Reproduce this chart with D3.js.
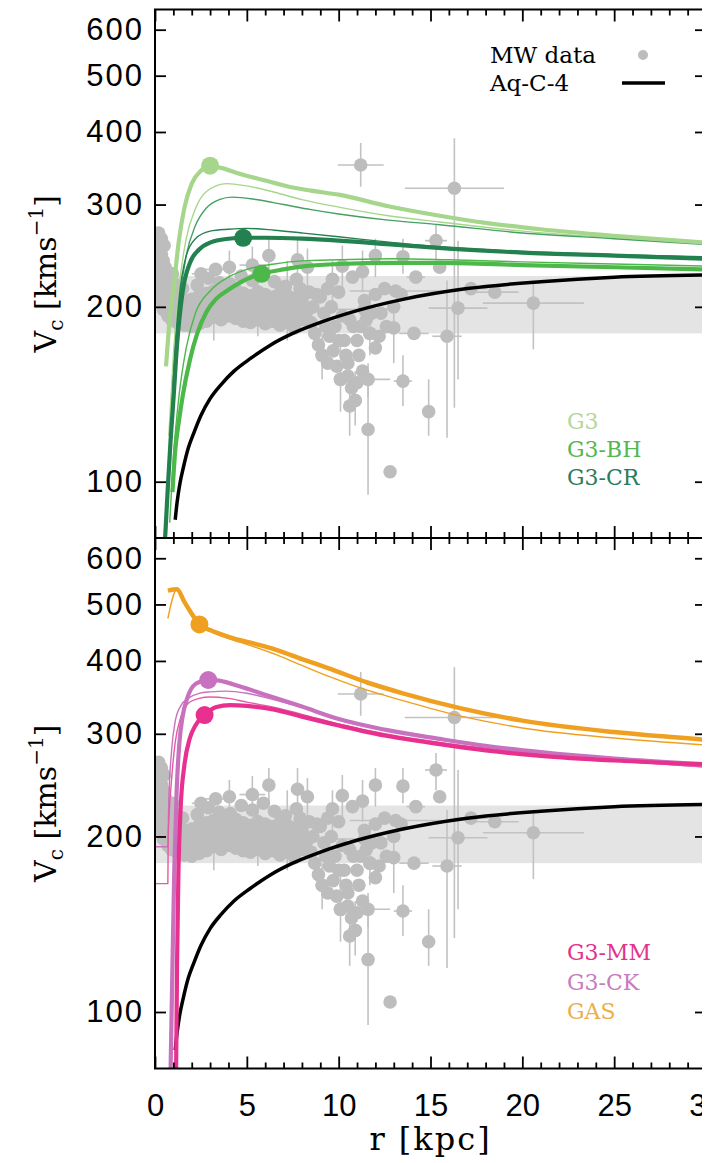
<!DOCTYPE html>
<html>
<head>
<meta charset="utf-8">
<script src="https://cdnjs.cloudflare.com/ajax/libs/d3/7.8.5/d3.min.js"></script>
<style>
body { margin: 0; background: #fff; }
svg { display: block; }
</style>
</head>
<body>
<script>
// ---- data ----
var xTicks = [0, 5, 10, 15, 20, 25, 30];
var yTicks = [100, 200, 300, 400, 500, 600];

// Aq-C-4 (black)
var aqR = [1.1, 1.2, 1.35, 1.55, 1.8, 2.1, 2.5, 3.0, 3.6, 4.3, 5.2, 6.3, 7.5, 9, 11, 13.5, 17, 21, 25, 30];
var aqV = [86, 92, 99, 106, 114, 121, 130, 139, 147, 155, 163, 172, 180, 188, 197, 206, 215, 221, 225, 227];

// top panel
var g3R = [0.6, 0.8, 1.0, 1.3, 1.6, 2.0, 2.5, 3.0, 3.6, 4.6, 6, 7.3, 8.5, 10, 12.7, 15.5, 18, 21, 25, 30];
var g3V = [158, 190, 214, 260, 296, 326, 343, 350, 347, 339, 330, 322, 317, 312, 298, 287, 279, 272, 265, 258];
var g3ThinR = [0.75, 1.0, 1.3, 1.7, 2.2, 2.8, 3.9, 5, 6.5, 8, 10, 12.7, 15.5, 20, 25, 30];
var g3ThinV = [120, 165, 215, 262, 295, 316, 326, 323, 315, 306, 297, 287, 280, 270, 263, 257];
var crThin1R = [0.8, 1.0, 1.3, 1.7, 2.2, 2.8, 3.5, 4.2, 5.5, 7, 8.5, 10, 12.7, 15.5, 20, 25, 30];
var crThin1V = [110, 150, 200, 245, 276, 296, 306, 309, 306, 300, 294, 289, 282, 277, 268, 262, 256];
var crThin2R = [0.6, 0.8, 1.0, 1.3, 1.7, 2.2, 3, 4, 5, 6.5, 8, 10, 13, 16, 20, 25, 30];
var crThin2V = [80, 110, 150, 205, 245, 262, 270, 272, 273, 271, 268, 264, 258, 253, 249, 246, 244];
var crR = [0.55, 0.7, 0.85, 1.0, 1.2, 1.5, 1.9, 2.4, 3, 4, 4.8, 6, 8, 10, 13, 16, 20, 25, 30];
var crV = [80, 98, 118, 138, 172, 212, 238, 251, 258, 262, 263, 263, 262, 260, 256, 252, 248, 245, 242];
var bhThinR = [0.8, 1.0, 1.3, 1.7, 2.2, 3, 4, 5, 6.5, 8, 10, 13, 16, 20, 25, 30];
var bhThinV = [85, 110, 140, 170, 195, 213, 225, 232, 237, 240, 241, 242, 241, 239, 237, 235];
var bhR = [0.95, 1.1, 1.3, 1.5, 1.9, 2.3, 2.8, 3.3, 4.0, 4.6, 5.8, 7, 8.2, 10, 13, 15.5, 20, 25, 30];
var bhV = [96, 113, 127, 140, 162, 180, 196, 206, 214, 220, 228, 232, 235, 237, 238, 238, 236, 234, 232];

// bottom panel
var gasThinR = [0.7, 1.2, 1.6, 2.0, 2.42, 3.0, 4.0, 5.2, 6.6, 8, 9.5, 11.6, 13.5, 16.6, 20, 25, 30];
var gasThinV = [473, 531, 505, 482, 462, 450, 437, 425, 410, 393, 376, 356, 342, 322, 307, 295, 287];
var gasR = [0.7, 1.2, 1.6, 2.0, 2.42, 3.0, 4.0, 5.2, 6.6, 8, 9.5, 11.6, 13.5, 16.6, 20, 25, 30];
var gasV = [528, 531, 505, 482, 462, 452, 440, 430, 418, 403, 388, 367, 352, 332, 316, 302, 293];
var ckThinR = [0.05, 0.7, 0.75, 0.9, 1.1, 1.4, 1.8, 2.4, 3.0, 3.9, 5, 6.5, 8, 10, 12.5, 15.5, 20, 25, 30];
var ckThinV = [192, 192, 230, 280, 315, 335, 345, 352, 354, 355, 352, 343, 333, 319, 305, 293, 280, 270, 263];
var ckR = [0.85, 0.95, 1.05, 1.18, 1.33, 1.51, 1.75, 2.07, 2.5, 2.9, 3.5, 4.6, 6, 8, 10, 12.5, 15.5, 18, 21, 25, 30];
var ckV = [80, 120, 175, 240, 290, 322, 345, 362, 369, 372, 370, 362, 350, 334, 318, 305, 294, 286, 279, 272, 266];
var mmThinR = [0.05, 0.7, 0.72, 0.9, 1.1, 1.4, 1.8, 2.4, 3, 4, 5, 6.5, 8, 10, 12.5, 15.5, 20, 25, 30];
var mmThinV = [166, 166, 200, 250, 290, 320, 338, 345, 347, 345, 340, 333, 324, 312, 300, 290, 279, 270, 263];
var mmR = [1.15, 1.2, 1.27, 1.4, 1.6, 1.9, 2.2, 2.7, 3.3, 4.1, 5, 6.5, 8, 10, 12.5, 15.5, 18, 21, 25, 30];
var mmV = [80, 120, 170, 225, 265, 295, 310, 323, 333, 336, 335, 330, 321, 310, 298, 288, 281, 275, 270, 266];

// MW data without error bars
var mwR = [
  // inner blob
  0.05, 0.15, 0.1, 0.25, 0.2, 0.35, 0.3, 0.45, 0.4, 0.55, 0.5, 0.65, 0.6, 0.75, 0.7, 0.85, 0.8,
  0.1, 0.2, 0.3, 0.4, 0.5, 0.6, 0.7, 0.9, 0.9, 1.0, 0.95, 0.2, 0.35, 0.5, 0.15, 0.3, 0.45, 0.6, 0.75, 0.9, 1.0, 0.05, 0.05, 0.05,
  // disc rows
  1.2, 1.6, 2.0, 2.4, 2.8, 3.2, 3.6, 4.0, 4.4, 4.8, 5.2, 5.6, 6.0, 6.4, 6.8, 7.2, 7.6,
  1.1, 1.5, 1.9, 2.3, 2.7, 3.1, 3.5, 3.9, 4.3, 4.7, 5.1, 5.5, 5.9, 6.3, 6.7, 7.1, 7.5,
  1.0, 1.4, 1.8, 2.2, 2.6, 3.0, 3.4, 3.8, 4.2, 4.6, 5.0, 5.4, 5.8, 6.2, 6.6, 7.0, 7.4, 7.8,
  1.0, 1.4, 1.8, 2.2, 2.6, 3.0, 3.4, 3.8, 4.2, 4.6, 5.0, 5.4, 5.8, 6.2, 6.6, 7.0, 7.4, 7.8,
  1.2, 1.6, 2.0, 2.4, 2.8, 3.2, 3.6, 4.0, 4.4, 4.8, 5.2, 5.6, 6.0, 6.4, 6.8, 7.2, 7.6,
  1.5, 2.3, 2.9, 3.5, 4.1, 4.7, 5.3, 5.9, 6.5, 7.1, 7.7,
  // plume 8-13 kpc
  8.0, 8.3, 8.5, 8.7, 8.9, 9.1, 9.3, 9.5, 9.7, 9.9, 10.1, 10.3, 10.5, 10.7, 10.9, 11.1, 11.3, 11.5, 11.7, 12.0, 12.3, 12.6,
  8.4, 9.0, 9.6, 10.2, 10.8, 11.4, 12.0, 12.5, 13.0, 13.4,
  8.1, 8.6, 9.2, 9.4, 9.8, 10.0, 10.4, 10.6, 11.0, 11.2, 11.8, 12.2, 8.8, 9.4, 10.0, 7.9, 10.5, 11.0];
var mwV = [
  262, 258, 250, 252, 244, 246, 238, 240, 232, 234, 226, 228, 220, 222, 214, 216, 208,
  236, 228, 220, 212, 204, 198, 193, 200, 210, 220, 228, 268, 262, 255, 215, 205, 198, 205, 200, 190, 195, 240, 225, 210,
  188, 186, 185, 187, 189, 192, 190, 193, 191, 189, 188, 190, 187, 189, 186, 188, 184,
  193, 191, 190, 192, 194, 196, 195, 197, 196, 194, 193, 195, 192, 194, 191, 193, 190,
  198, 196, 195, 197, 199, 201, 203, 200, 202, 204, 199, 201, 203, 198, 200, 197, 199, 196,
  203, 201, 200, 202, 205, 207, 208, 206, 208, 209, 205, 207, 208, 204, 206, 203, 204, 201,
  207, 205, 206, 209, 211, 213, 210, 212, 214, 211, 209, 212, 210, 208, 211, 209, 207,
  215, 218, 224, 220, 219, 226, 222, 228, 221, 217, 223,
  205, 197, 188, 180, 172, 165, 185, 178, 168, 158, 150, 175, 160, 145, 138, 165, 155, 190, 180, 170, 195, 185,
  212, 208, 200, 193, 185, 205, 210, 215, 200, 210,
  190, 200, 195, 160, 185, 175, 165, 190, 175, 185, 195, 178, 210, 215, 212, 215, 152, 148];

// MW data with error bars: r, v, half error in r, lower / upper end of v error (0 = none)
var barR = [11.2, 16.3, 20.6, 15.9, 16.5, 14.9, 12.8, 11.6, 10.6, 11.6, 13.5, 13.0, 14.1, 15.3, 15.5, 14.2, 13.5, 12.0,
  9.66, 8.3, 7.76, 6.2, 5.3, 4.05, 10.75, 11.3, 10.2, 17.2, 18.5, 13.1, 11.4, 3.3, 2.5,
  3.2, 5.6, 7.2, 9.1, 10.1, 10.9, 11.7];
var barV = [351, 320, 203, 178, 199, 132, 104, 123, 135, 150, 149, 184, 180, 260, 234, 225, 244, 245,
  223, 234, 241, 245, 236, 234, 225, 230, 235, 215, 212, 213, 198, 232, 228,
  213, 212, 209, 165, 150, 138, 180];
var barDr = [1.25, 2.7, 2.75, 0.8, 1.6, 0, 0, 0, 0, 1.2, 0.5, 0, 0.8, 0.6, 0, 0.5, 0, 0,
  0, 0, 0, 0, 0.7, 0, 0, 0, 0, 0.9, 1.3, 2.5, 1.5, 0.6, 0.5,
  0, 0, 0, 0, 0, 0, 0];
var barLo = [322, 134, 169, 119, 150, 120, 0, 95, 120, 140, 135, 160, 0, 240, 0, 0, 228, 225,
  205, 215, 222, 226, 220, 220, 0, 212, 215, 0, 0, 0, 0, 0, 0,
  175, 178, 175, 150, 132, 125, 165];
var barHi = [383, 390, 222, 222, 260, 150, 0, 150, 150, 160, 165, 205, 0, 278, 0, 0, 262, 262,
  240, 252, 262, 262, 254, 250, 0, 250, 255, 0, 0, 0, 0, 0, 0,
  230, 235, 240, 180, 172, 155, 210];

var topCurves = [
  {r: g3ThinR, v: g3ThinV, color: "#a6d68c", w: 1.4},
  {r: crThin1R, v: crThin1V, color: "#45a062", w: 1.4},
  {r: crThin2R, v: crThin2V, color: "#23804f", w: 1.4},
  {r: bhThinR, v: bhThinV, color: "#4cb84a", w: 1.4},
  {r: g3R, v: g3V, color: "#a6d68c", w: 4.2, dot: [3.0, 350]},
  {r: crR, v: crV, color: "#23804f", w: 4.2, dot: [4.8, 263]},
  {r: bhR, v: bhV, color: "#4cb84a", w: 4.2, dot: [5.8, 228]}
];
var botCurves = [
  {r: gasThinR, v: gasThinV, color: "#f0a020", w: 1.4},
  {r: ckThinR, v: ckThinV, color: "#c872bf", w: 1.4},
  {r: mmThinR, v: mmThinV, color: "#e55aa2", w: 1.4},
  {r: gasR, v: gasV, color: "#f0a020", w: 4.5, dot: [2.42, 462]},
  {r: ckR, v: ckV, color: "#c872bf", w: 4.2, dot: [2.9, 371]},
  {r: mmR, v: mmV, color: "#e8308f", w: 4.2, dot: [2.7, 323]}
];
var topLabels = ["G3", "G3-BH", "G3-CR"];
var topLabelColors = ["#b3d79e", "#55b653", "#2c7d5e"];
var botLabels = ["G3-MM", "G3-CK", "GAS"];
var botLabelColors = ["#e2338c", "#c77cc0", "#eab04c"];

// ---- layout ----
var width = 702, height = 1163;
var svg = d3.select("body").append("svg")
  .attr("width", width)
  .attr("height", height);

var x = d3.scaleLinear().domain([0, 30]).range([155, 706]);

function drawPanel(top, bottom, curves, labels, labelColors, labelY, showX, id) {
  var y = d3.scaleLog().domain([80, 650]).range([bottom, top]);
  var g = svg.append("g");

  svg.append("clipPath").attr("id", id)
    .append("rect")
    .attr("x", x(0)).attr("y", top)
    .attr("width", x(30) - x(0)).attr("height", bottom - top);

  var plot = g.append("g").attr("clip-path", "url(#" + id + ")");

  // grey band
  plot.append("rect")
    .attr("x", x(0)).attr("width", x(30) - x(0))
    .attr("y", y(226)).attr("height", y(180) - y(226))
    .attr("fill", "#e4e4e4");

  // MW data error bars
  var bi = d3.range(barR.length);
  var eb = plot.append("g").attr("stroke", "#c2c2c2").attr("stroke-width", 1.6);
  bi.filter(function(i){ return barDr[i] > 0; }).forEach(function(i){
    eb.append("line")
      .attr("x1", x(barR[i] - barDr[i])).attr("x2", x(barR[i] + barDr[i]))
      .attr("y1", y(barV[i])).attr("y2", y(barV[i]));
  });
  bi.filter(function(i){ return barLo[i] > 0; }).forEach(function(i){
    eb.append("line")
      .attr("x1", x(barR[i])).attr("x2", x(barR[i]))
      .attr("y1", y(barLo[i])).attr("y2", y(barHi[i]));
  });
  var pts = d3.zip(mwR, mwV).concat(d3.zip(barR, barV));
  plot.append("g").selectAll("circle")
    .data(pts)
    .enter().append("circle")
    .attr("cx", function(d){ return x(d[0]); })
    .attr("cy", function(d){ return y(d[1]); })
    .attr("r", 6.8)
    .attr("fill", "#bdbdbd");

  var line = d3.line()
    .x(function(d){ return x(d[0]); })
    .y(function(d){ return y(d[1]); })
    .curve(d3.curveMonotoneX);

  // Aq-C-4
  plot.append("path")
    .datum(d3.zip(aqR, aqV))
    .attr("fill", "none")
    .attr("stroke", "#000")
    .attr("stroke-width", 3.5)
    .attr("d", line);

  curves.forEach(function(c){
    plot.append("path")
      .datum(d3.zip(c.r, c.v))
      .attr("fill", "none")
      .attr("stroke", c.color)
      .attr("stroke-width", c.w)
      .attr("stroke-linejoin", "round")
      .attr("d", line);
  });
  curves.forEach(function(c){
    if (c.dot) {
      plot.append("circle")
        .attr("cx", x(c.dot[0])).attr("cy", y(c.dot[1]))
        .attr("r", 9).attr("fill", c.color);
    }
  });

  // axes
  var minor = d3.range(0, 31).filter(function(d){ return d % 5 != 0; });
  function xa(axis, size, vals, ty, fmt, pad) {
    var a = g.append("g")
      .attr("transform", "translate(0," + ty + ")")
      .call(axis(x).tickValues(vals).tickSize(size).tickPadding(pad || 3).tickFormat(fmt || ""));
    a.select(".domain").remove();
    a.selectAll("line").attr("stroke-width", 1.8);
    return a;
  }
  xa(d3.axisTop, -12, xTicks, top);
  xa(d3.axisTop, -6, minor, top);
  var xb = xa(d3.axisBottom, -12, xTicks, bottom, showX ? d3.format("d") : "", 25);
  xa(d3.axisBottom, -6, minor, bottom);
  xb.selectAll("text")
    .attr("font-family", "Liberation Sans, Arial, sans-serif")
    .attr("font-size", 31)
    .attr("fill", "#000");

  var ya = g.append("g")
    .attr("transform", "translate(" + x(0) + ",0)")
    .call(d3.axisLeft(y).tickValues(yTicks).tickSize(-11).tickPadding(11).tickFormat(d3.format("d")));
  ya.select(".domain").remove();
  ya.selectAll("line").attr("stroke-width", 1.8);
  ya.selectAll("text")
    .attr("font-family", "Liberation Sans, Arial, sans-serif")
    .attr("font-size", 31)
    .attr("letter-spacing", 2)
    .attr("fill", "#000");
  var yr = g.append("g")
    .attr("transform", "translate(" + x(30) + ",0)")
    .call(d3.axisRight(y).tickValues(yTicks).tickSize(-11).tickFormat(""));
  yr.select(".domain").remove();
  yr.selectAll("line").attr("stroke-width", 1.8);

  // frame (left, top, bottom)
  g.append("path")
    .attr("d", "M" + x(30) + "," + top + "H" + x(0) + "V" + bottom + "H" + x(30))
    .attr("fill", "none")
    .attr("stroke", "#000")
    .attr("stroke-width", 2);

  // y title
  var yt = g.append("text")
    .attr("transform", "translate(56," + ((top + bottom) / 2) + ") rotate(-90)")
    .attr("text-anchor", "middle")
    .attr("font-family", "DejaVu Serif, serif")
    .attr("font-size", 30);
  yt.append("tspan").text("V");
  yt.append("tspan").attr("font-size", 20).attr("dy", 7).text("c");
  yt.append("tspan").attr("dy", -7).text(" [kms");
  yt.append("tspan").attr("font-size", 20).attr("dy", -13).text("\u22121");
  yt.append("tspan").attr("dy", 13).text("]");

  // model legend
  labels.forEach(function(t, i){
    g.append("text")
      .attr("x", 567).attr("y", labelY[i])
      .attr("font-family", "DejaVu Serif, serif")
      .attr("font-size", 22)
      .attr("fill", labelColors[i])
      .text(t);
  });
  return y;
}

drawPanel(9.5, 538, topCurves, topLabels, topLabelColors, [429, 457, 485], false, "clipTop");
drawPanel(538, 1068.5, botCurves, botLabels, botLabelColors, [960, 990, 1019], true, "clipBot");

// MW / Aq legend (top panel)
svg.append("text")
  .attr("x", 490).attr("y", 63)
  .attr("font-family", "DejaVu Serif, serif")
  .attr("font-size", 23)
  .text("MW data");
svg.append("circle").attr("cx", 643).attr("cy", 55).attr("r", 5).attr("fill", "#bdbdbd");
svg.append("text")
  .attr("x", 490).attr("y", 91)
  .attr("font-family", "DejaVu Serif, serif")
  .attr("font-size", 23)
  .text("Aq-C-4");
svg.append("line")
  .attr("x1", 622).attr("x2", 665).attr("y1", 83).attr("y2", 83)
  .attr("stroke", "#000").attr("stroke-width", 3.5);

// x title
svg.append("text")
  .attr("x", (x(0) + x(30)) / 2).attr("y", 1150)
  .attr("text-anchor", "middle")
  .attr("font-family", "DejaVu Serif, serif")
  .attr("font-size", 32)
  .attr("letter-spacing", 2)
  .text("r [kpc]");
</script>
</body>
</html>
